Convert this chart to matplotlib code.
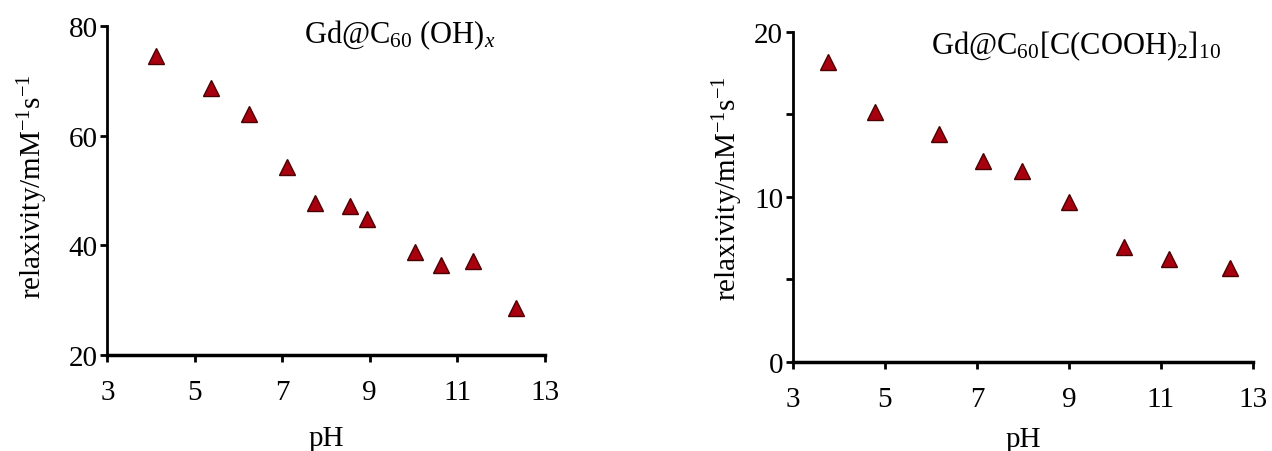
import matplotlib
matplotlib.use('Agg')
import matplotlib.pyplot as plt
import numpy as np

plt.rcParams['font.family'] = 'Liberation Serif'
plt.rcParams['mathtext.fontset'] = 'custom'
plt.rcParams['mathtext.rm'] = 'Liberation Serif'
plt.rcParams['mathtext.it'] = 'Liberation Serif:italic'

# Gd@C60(OH)x
ph_oh = [4.10, 5.36, 6.23, 7.10, 7.75, 8.55, 8.94, 10.03, 10.64, 11.36, 12.34]
relax_oh = [74.5, 68.6, 63.9, 54.2, 47.7, 47.2, 44.8, 38.7, 36.5, 37.1, 28.5]

# Gd@C60[C(COOH)2]10
ph_cooh = [3.76, 4.79, 6.17, 7.13, 7.98, 9.01, 10.19, 11.17, 12.50]
relax_cooh = [18.2, 15.15, 13.84, 12.2, 11.6, 9.7, 6.97, 6.26, 5.7]

xticks = [3, 5, 7, 9, 11, 13]

fig = plt.figure(figsize=(12.72, 4.52), dpi=100)
ax1 = fig.add_axes([0.0845, 0.2124, 0.3436, 0.728])
ax2 = fig.add_axes([0.6234, 0.197, 0.3616, 0.730])

panels = [
    (ax1, ph_oh, relax_oh, (20, 80), [20, 40, 60, 80], [], r'Gd@C$_{60}$ (OH)$_x$', 0.45, 1.025, -0.131, 0.514, 15),
    (ax2, ph_cooh, relax_cooh, (0, 20), [0, 10, 20], [5, 15], r'Gd@C$_{60}$[C(COOH)$_2$]$_{10}$', 0.30, 1.01, -0.104, 0.53, 10.5),
]

for ax, x, y, ylim, yticks, yminor, title, tx, ty, ylx, yly, xpad in panels:
    ax.plot(x, y, linestyle='none', marker='^', markersize=11.5,
            markerfacecolor='#a8000f', markeredgecolor='#4a0000', markeredgewidth=1.0)
    ax.set_xlim(3, 13)
    ax.set_ylim(*ylim)
    ax.set_xticks(xticks)
    ax.set_yticks(yticks)
    ax.set_yticks(yminor, minor=True)
    ax.spines['top'].set_visible(False)
    ax.spines['right'].set_visible(False)
    ax.spines['left'].set_linewidth(2)
    ax.spines['bottom'].set_linewidth(2.5)
    ax.tick_params(axis='both', which='both', direction='out', length=5, width=2,
                   labelsize=21, colors='black')
    ax.tick_params(axis='x', pad=12)
    ax.tick_params(axis='y', pad=2)
    ax.set_xlabel('pH', fontsize=21, labelpad=xpad)
    ax.set_ylabel(r'relaxivity/mM$^{\mathregular{-1}}$s$^{\mathregular{-1}}$', fontsize=21)
    ax.yaxis.set_label_coords(ylx, yly)
    ax.text(tx, ty, title, transform=ax.transAxes, fontsize=22, ha='left', va='top')
    for line in ax.lines:
        line.set_clip_on(False)

plt.savefig('out.png', dpi=100)
